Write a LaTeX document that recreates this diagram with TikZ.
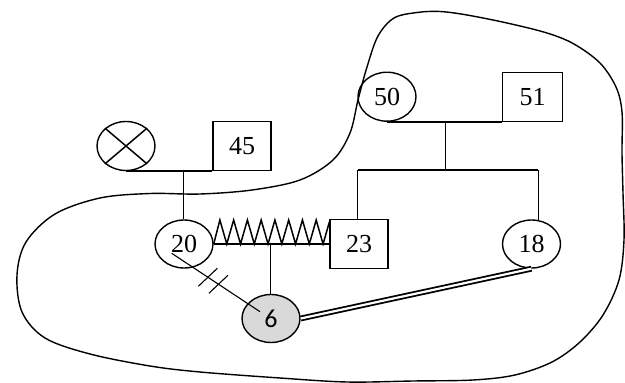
\documentclass[tikz,border=0pt]{standalone}
\usepackage{fontspec}
\setmainfont{Liberation Serif}
\newfontfamily\sixfont{Carlito}
\usetikzlibrary{shapes.geometric,calc}
\begin{document}
\begin{tikzpicture}[x=1pt,y=-1pt,line width=1.5pt,
  female/.style={ellipse,draw,line width=1.4pt,minimum width=58pt,minimum height=49pt,inner sep=0pt,font=\fontsize{26}{30}\selectfont},
  male/.style={rectangle,draw,line width=1.4pt,minimum width=58pt,minimum height=49pt,inner sep=0pt,font=\fontsize{26}{30}\selectfont},
  conn/.style={line width=1.5pt},
  blob/.style={line width=1.4pt}]
\useasboundingbox (0,0) rectangle (625,383);
\fill[white] (0,0) rectangle (625,383);
% boundary curve
\draw[blob] plot[smooth cycle,tension=0.55] coordinates {
 (200,194) (252,190) (300,180) (333,160) (350,133) (358,100) (367,67) (378,36)
 (394,18) (417,12.5) (440,11.5) (467,15) (507,23) (547,33) (574,44) (600,63)
 (616,87) (622,112) (622,153) (623,193) (624,240) (619,280) (603,315) (580,342)
 (552,362) (515,375) (473,380) (413,381) (347,382) (280,378) (200,372) (150,366)
 (90,354) (45,338) (22,312) (17,275) (26,242) (55,214) (100,198) (150,193.5)};
% nodes
\node[female] (X) at (126,146) {};
\draw[conn] (X.north west) -- (X.south east) (X.north east) -- (X.south west);
\node[male] (m45) at (242,146) {45};
\node[female] (f50) at (387,96.7) {50};
\node[male,minimum width=60pt] (m51) at (532.5,96.7) {51};
\node[female,minimum height=48pt] (f20) at (184,244) {20};
\node[male] (m23) at (359,244) {23};
\node[female,minimum height=48pt] (f18) at (531.5,244) {18};
\node[female,minimum height=48pt,fill=black!15,font=\sixfont\fontsize{26}{30}\selectfont] (f6) at (271,318.5) {6};
% first family
\draw[conn] (X.south) -- (m45.south west);
\coordinate (d1) at (183.5,170.5);
\draw[conn] (d1) -- (d1 |- f20.north);
% second family
\draw[conn] (f50.south) -- (m51.south west);
\coordinate (d2) at (445.3,121.7);
\coordinate (s2) at (445.3,170);
\coordinate (sL) at (357.7,170);
\coordinate (sR) at (538.3,170);
\draw[conn] (d2) -- (s2);
\draw[conn] (sL) -- (sR);
\draw[conn] (sL) -- (sL |- m23.north);
\draw[conn] (sR) -- (538.3,220.6);
% couple 20 -- 23
\draw[conn] (f20.east) -- (m23.west);
\draw[conn,line join=miter] (f20.east)
  \foreach \i in {1,...,17} { -- ({213+6.88*\i},{mod(\i,2)==1 ? 220 : 244}) };
\coordinate (d3) at (270.7,244);
\draw[conn] (d3) -- (d3 |- f6.north);
% separated line 20 -- 6
\coordinate (c1) at ($(f20.center)+(-12.3,9.3)$);
\coordinate (c2) at ($(f6.center)+(-11,-6.8)$);
\draw[conn,line width=1.1pt] (c1) -- (c2);
\coordinate (t1) at ($(c1)!0.41!(c2)$);
\coordinate (t2) at ($(c1)!0.53!(c2)$);
\draw[conn,line width=1.1pt] ($(t1)+(-9.5,9)$) -- ($(t1)+(9.5,-9)$);
\draw[conn,line width=1.1pt] ($(t2)+(-9.5,9)$) -- ($(t2)+(9.5,-9)$);
% close bond 6 -- 18
\draw[double,double distance=2.2pt,line width=1.8pt] (f6.east) -- (f18.south);
\end{tikzpicture}
\end{document}
